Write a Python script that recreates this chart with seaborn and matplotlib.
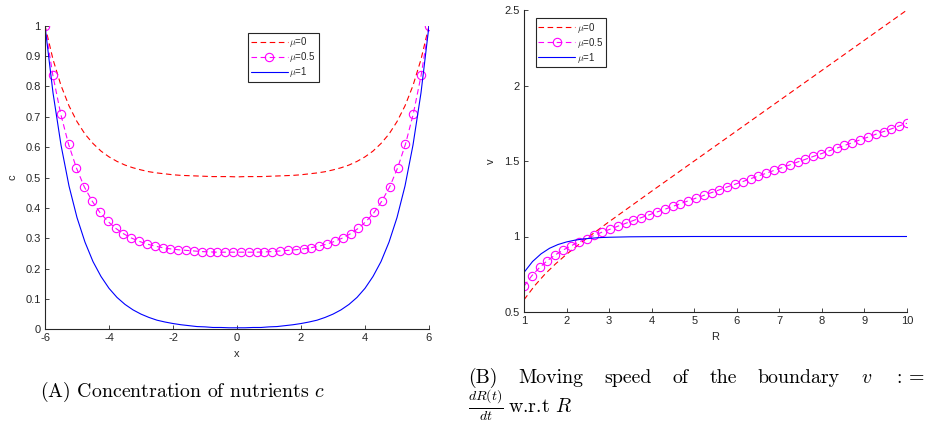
import matplotlib
matplotlib.use("Agg")
import matplotlib.pyplot as plt
import seaborn as sns
import numpy as np

# ---------------- data: panel (A) ----------------
x_grid = [-6.0, -5.75, -5.5, -5.25, -5.0, -4.75, -4.5, -4.25, -4.0, -3.75, -3.5, -3.25,
          -3.0, -2.75, -2.5, -2.25, -2.0, -1.75, -1.5, -1.25, -1.0, -0.75, -0.5, -0.25,
          0.0, 0.25, 0.5, 0.75, 1.0, 1.25, 1.5, 1.75, 2.0, 2.25, 2.5, 2.75, 3.0, 3.25,
          3.5, 3.75, 4.0, 4.25, 4.5, 4.75, 5.0, 5.25, 5.5, 5.75, 6.0]
c_mu0 = [1.000, 0.889, 0.803, 0.736, 0.684, 0.643, 0.612, 0.587, 0.568, 0.553, 0.541, 0.532,
         0.525, 0.519, 0.515, 0.512, 0.509, 0.507, 0.506, 0.505, 0.504, 0.503, 0.503, 0.503,
         0.502, 0.503, 0.503, 0.503, 0.504, 0.505, 0.506, 0.507, 0.509, 0.512, 0.515, 0.519,
         0.525, 0.532, 0.541, 0.553, 0.568, 0.587, 0.612, 0.643, 0.684, 0.736, 0.803, 0.889, 1.000]
c_mu1 = [1.000, 0.779, 0.607, 0.472, 0.368, 0.287, 0.223, 0.174, 0.135, 0.105, 0.082, 0.064,
         0.050, 0.039, 0.030, 0.024, 0.019, 0.015, 0.012, 0.009, 0.008, 0.006, 0.006, 0.005,
         0.005, 0.005, 0.006, 0.006, 0.008, 0.009, 0.012, 0.015, 0.019, 0.024, 0.030, 0.039,
         0.050, 0.064, 0.082, 0.105, 0.135, 0.174, 0.223, 0.287, 0.368, 0.472, 0.607, 0.779, 1.000]
x_mark = [-6.0, -5.7551, -5.5102, -5.2653, -5.0204, -4.7755, -4.5306, -4.2857, -4.0408,
          -3.7959, -3.551, -3.3061, -3.0612, -2.8163, -2.5714, -2.3265, -2.0816, -1.8367,
          -1.5918, -1.3469, -1.102, -0.8571, -0.6122, -0.3673, -0.1224,
          0.1224, 0.3673, 0.6122, 0.8571, 1.102, 1.3469, 1.5918, 1.8367, 2.0816, 2.3265,
          2.5714, 2.8163, 3.0612, 3.3061, 3.551, 3.7959, 4.0408, 4.2857, 4.5306, 4.7755,
          5.0204, 5.2653, 5.5102, 5.7551, 6.0]
c_mu05 = [1.000, 0.837, 0.710, 0.610, 0.532, 0.470, 0.423, 0.385, 0.356, 0.333, 0.315, 0.301,
          0.290, 0.281, 0.274, 0.269, 0.265, 0.262, 0.260, 0.258, 0.256, 0.255, 0.254, 0.254,
          0.254,
          0.254, 0.254, 0.254, 0.255, 0.256, 0.258, 0.260, 0.262, 0.265, 0.269, 0.274, 0.281,
          0.290, 0.301, 0.315, 0.333, 0.356, 0.385, 0.423, 0.470, 0.532, 0.610, 0.710, 0.837,
          1.000]

# ---------------- data: panel (B) ----------------
R_red = [1.0, 1.25, 1.5, 1.75, 2.0, 2.25, 2.5, 2.75, 3.0, 3.5, 4.0, 5.0, 6.0, 7.0, 8.0, 9.0, 10.0]
v_mu0 = [0.581, 0.674, 0.753, 0.821, 0.882, 0.939, 0.993, 1.046, 1.098, 1.199, 1.300,
         1.500, 1.700, 1.900, 2.100, 2.300, 2.500]
R_blue = [1.0, 1.2, 1.4, 1.6, 1.8, 2.0, 2.2, 2.4, 2.6, 2.8, 3.0, 3.5, 4.0, 5.0, 10.0]
v_mu1 = [0.762, 0.834, 0.885, 0.922, 0.947, 0.964, 0.976, 0.984, 0.989, 0.993, 0.995,
         0.998, 0.999, 1.000, 1.000]
R_mark = [1.0, 1.1837, 1.3673, 1.551, 1.7347, 1.9184, 2.102, 2.2857, 2.4694, 2.6531,
          2.8367, 3.0204, 3.2041, 3.3878, 3.5714, 3.7551, 3.9388, 4.1224, 4.3061, 4.4898,
          4.6735, 4.8571, 5.0408, 5.2245, 5.4082, 5.5918, 5.7755, 5.9592, 6.1429, 6.3265,
          6.5102, 6.6939, 6.8776, 7.0612, 7.2449, 7.4286, 7.6122, 7.7959, 7.9796, 8.1633,
          8.3469, 8.5306, 8.7143, 8.898, 9.0816, 9.2653, 9.449, 9.6327, 9.8163, 10.0]
v_mu05 = [0.671, 0.740, 0.795, 0.841, 0.878, 0.910, 0.938, 0.963, 0.986, 1.008,
          1.029, 1.048, 1.068, 1.087, 1.106, 1.125, 1.143, 1.162, 1.180, 1.199,
          1.217, 1.236, 1.254, 1.272, 1.291, 1.309, 1.328, 1.346, 1.364, 1.383,
          1.401, 1.419, 1.438, 1.456, 1.474, 1.493, 1.511, 1.530, 1.548, 1.566,
          1.585, 1.603, 1.621, 1.640, 1.658, 1.677, 1.695, 1.713, 1.732, 1.750]

labels = [r'$\mu$=0', r'$\mu$=0.5', r'$\mu$=1']
x_ticks = [-6, -4, -2, 0, 2, 4, 6]
c_ticks = [0, 0.1, 0.2, 0.3, 0.4, 0.5, 0.6, 0.7, 0.8, 0.9, 1]
R_ticks = [1, 2, 3, 4, 5, 6, 7, 8, 9, 10]
v_ticks = [0.5, 1, 1.5, 2, 2.5]
caption_a = r'(A) Concentration of nutrients $c$'
caption_b_words = ['(B)', 'Moving', 'speed', 'of', 'the', 'boundary', r'$v$', r'$:=$']
caption_b_line2 = [r'$\frac{dR(t)}{dt}$', r'w.r.t $R$']

# ---------------- style ----------------
sns.set_theme(style="ticks")
plt.rcParams['font.family'] = ['Liberation Sans', 'DejaVu Sans']
plt.rcParams['mathtext.fontset'] = 'cm'
plt.rcParams['axes.unicode_minus'] = False
plt.rcParams['xtick.direction'] = 'in'
plt.rcParams['ytick.direction'] = 'in'

AX_COL = '#262626'
RED = '#FF0000'
MAG = '#FF00FF'
BLUE = '#0000FF'
LW = 0.8

fig = plt.figure(figsize=(9.38, 4.30), dpi=100)
fig.patch.set_facecolor('white')
W, H = 938, 430

def px_axes(l, t, r, b):
    return fig.add_axes([l / W, 1 - b / H, (r - l) / W, (b - t) / H])

axA = px_axes(45, 25.7, 429, 329.3)
axB = px_axes(524, 10, 907, 312)

def fmt(v):
    return ('%g' % v)

def draw(ax, xr, yr, xm, ym, xb, yb):
    sns.lineplot(x=xr, y=yr, ax=ax, color=RED, linewidth=LW, sort=False,
                 estimator=None, label=labels[0])
    ax.lines[-1].set_dashes((5, 3.2))
    sns.lineplot(x=xm, y=ym, ax=ax, color=MAG, linewidth=LW, sort=False,
                 estimator=None, marker='o', markersize=6, markerfacecolor='none',
                 markeredgecolor=MAG, markeredgewidth=LW, label=labels[1])
    ax.lines[-1].set_dashes((5, 3.2))
    sns.lineplot(x=xb, y=yb, ax=ax, color=BLUE, linewidth=LW, sort=False,
                 estimator=None, label=labels[2])
    for s in ['top', 'right']:
        ax.spines[s].set_visible(False)
    for s in ['left', 'bottom']:
        ax.spines[s].set_color(AX_COL)
        ax.spines[s].set_linewidth(0.8)
    ax.tick_params(axis='both', colors=AX_COL, labelsize=8, length=3, width=0.6,
                   pad=3, labelcolor=AX_COL)
    ax.set_facecolor('white')

draw(axA, x_grid, c_mu0, x_mark, c_mu05, x_grid, c_mu1)
axA.set_xlim(-6, 6)
axA.set_ylim(0, 1)
axA.set_xticks(x_ticks)
axA.set_xticklabels([fmt(v) for v in x_ticks])
axA.set_yticks(c_ticks)
axA.set_yticklabels([fmt(v) for v in c_ticks])
axA.set_xlabel('x', fontsize=8, color=AX_COL, labelpad=4)
axA.set_ylabel('c', fontsize=8, color=AX_COL, labelpad=6)

draw(axB, R_red, v_mu0, R_mark, v_mu05, R_blue, v_mu1)
axB.set_xlim(1, 10)
axB.set_ylim(0.5, 2.5)
axB.set_xticks(R_ticks)
axB.set_xticklabels([fmt(v) for v in R_ticks])
axB.set_yticks(v_ticks)
axB.set_yticklabels([fmt(v) for v in v_ticks])
axB.set_xlabel('R', fontsize=8, color=AX_COL, labelpad=4)
axB.set_ylabel('v', fontsize=8, color=AX_COL, labelpad=6)

def legend(ax, anchor):
    leg = ax.legend(loc='upper left', bbox_to_anchor=anchor, borderaxespad=0,
                    fontsize=7, frameon=True, fancybox=False, framealpha=1,
                    edgecolor=AX_COL, handlelength=3.8, handletextpad=0.2,
                    labelspacing=0.1, borderpad=0.25)
    leg.get_frame().set_linewidth(0.8)
    for t in leg.get_texts():
        t.set_color(AX_COL)

legend(axA, (0.529, 0.976))
legend(axB, (0.031, 0.973))

# captions
CAP = 14.3
fig.text(40 / W, 1 - 392 / H, caption_a,
         fontsize=CAP, family='cmr10', ha='left', va='center', color='black')

# justified first line of caption B between x=468 and x=925
renderer = fig.canvas.get_renderer()
texts = [fig.text(0, 1 - 378 / H, w, fontsize=CAP, family='cmr10',
                  ha='left', va='center', color='black') for w in caption_b_words]
widths = [t.get_window_extent(renderer=renderer).width for t in texts]
left, right = 468.0, 925.0
gap = (right - left - sum(widths)) / (len(widths) - 1)
xp = left
for t, wd in zip(texts, widths):
    t.set_x(xp / W)
    xp += wd + gap

fig.text(468 / W, 1 - 405 / H, caption_b_line2[0],
         fontsize=CAP, ha='left', va='center', color='black')
fig.text(508 / W, 1 - 407 / H, caption_b_line2[1],
         fontsize=CAP, family='cmr10', ha='left', va='center', color='black')

fig.savefig('out.png', dpi=100, facecolor='white')
